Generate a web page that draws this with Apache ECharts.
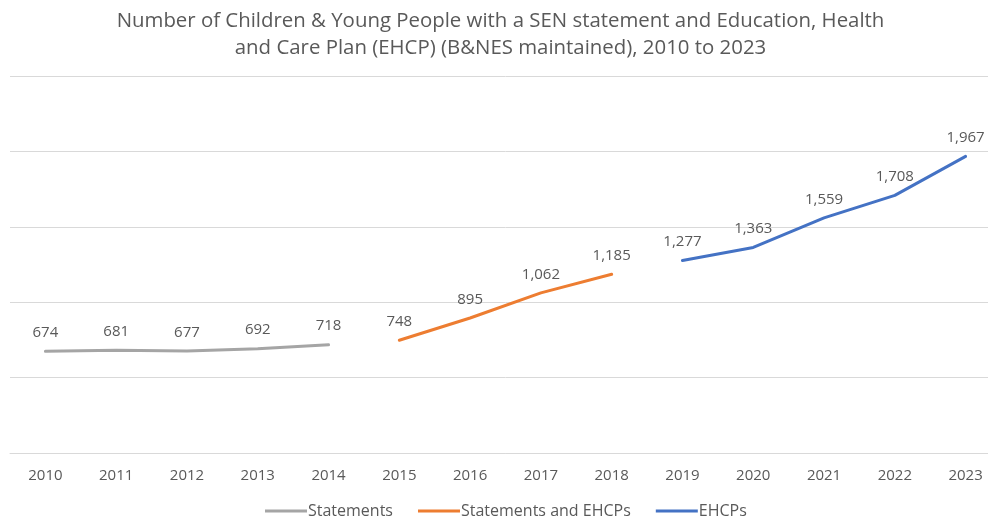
<!DOCTYPE html>
<html>
<head>
<meta charset="utf-8">
<script src="https://cdn.jsdelivr.net/npm/echarts@6/dist/echarts.min.js"></script>
<style>
  html, body { margin: 0; padding: 0; background: #fff; overflow: hidden; }
  #chart { width: 1001px; height: 519px; }
</style>
</head>
<body>
<div id="chart"></div>
<script>
// Years on the category axis
const years = ['2010','2011','2012','2013','2014','2015','2016','2017','2018','2019','2020','2021','2022','2023'];

// Counts per plan type, each covering its own run of years
const statementsStart = '2010';
const statements = [674, 681, 677, 692, 718];
const mixedStart = '2015';
const statementsAndEhcps = [748, 895, 1062, 1185];
const ehcpsStart = '2019';
const ehcps = [1277, 1363, 1559, 1708, 1967];

// Place a run of values onto the full year axis, leaving gaps elsewhere
function spread(start, values) {
  const out = years.map(() => null);
  const i0 = years.indexOf(start);
  values.forEach((v, i) => { out[i0 + i] = v; });
  return out;
}

const fmt = v => Number(v).toLocaleString('en-GB');
const textColor = '#595959';
const fontFamily = '"Open Sans", "Noto Sans", sans-serif';

function lineSeries(name, color, data) {
  return {
    name: name,
    type: 'line',
    data: data,
    symbol: 'circle',
    symbolSize: 0,
    showSymbol: true,
    connectNulls: false,
    lineStyle: { width: 3, color: color, cap: 'round' },
    itemStyle: { color: color },
    label: {
      show: true,
      position: 'top',
      distance: 11,
      color: textColor,
      fontSize: 15,
      fontFamily: fontFamily,
      formatter: p => fmt(p.value)
    }
  };
}

const chart = echarts.init(document.getElementById('chart'), null, { renderer: 'canvas' });
chart.setOption({
  animation: false,
  textStyle: { fontFamily: fontFamily },
  title: {
    text: 'Number of Children & Young People with a SEN statement and Education, Health\nand Care Plan (EHCP) (B&NES maintained), 2010 to 2023',
    left: 'center',
    top: 3,
    padding: [5, 8, 5, 0],
    textStyle: { color: textColor, fontSize: 20.4, fontWeight: 'normal', lineHeight: 27, fontFamily: fontFamily }
  },
  legend: {
    top: 503,
    left: 265,
    padding: 0,
    itemWidth: 42,
    itemHeight: 3,
    itemGap: 25,
    icon: 'rect',
    textStyle: { color: textColor, fontSize: 16, padding: [0, 0, 0, -4] },
    data: ['Statements', 'Statements and EHCPs', 'EHCPs']
  },
  grid: { left: 10, top: 76, right: 0, bottom: 66, containLabel: false },
  xAxis: {
    type: 'category',
    data: years,
    boundaryGap: true,
    axisLine: { lineStyle: { color: '#d9d9d9', width: 1 } },
    axisTick: { show: false },
    axisLabel: { color: textColor, fontSize: 15, margin: 15 }
  },
  yAxis: {
    type: 'value',
    min: 0,
    max: 2500,
    interval: 500,
    axisLabel: { show: false },
    axisLine: { show: false },
    axisTick: { show: false },
    splitLine: { lineStyle: { color: '#d9d9d9', width: 1 } }
  },
  series: [
    lineSeries('Statements', '#A5A5A5', spread(statementsStart, statements)),
    lineSeries('Statements and EHCPs', '#ED7D31', spread(mixedStart, statementsAndEhcps)),
    lineSeries('EHCPs', '#4472C4', spread(ehcpsStart, ehcps))
  ]
});
</script>
</body>
</html>
